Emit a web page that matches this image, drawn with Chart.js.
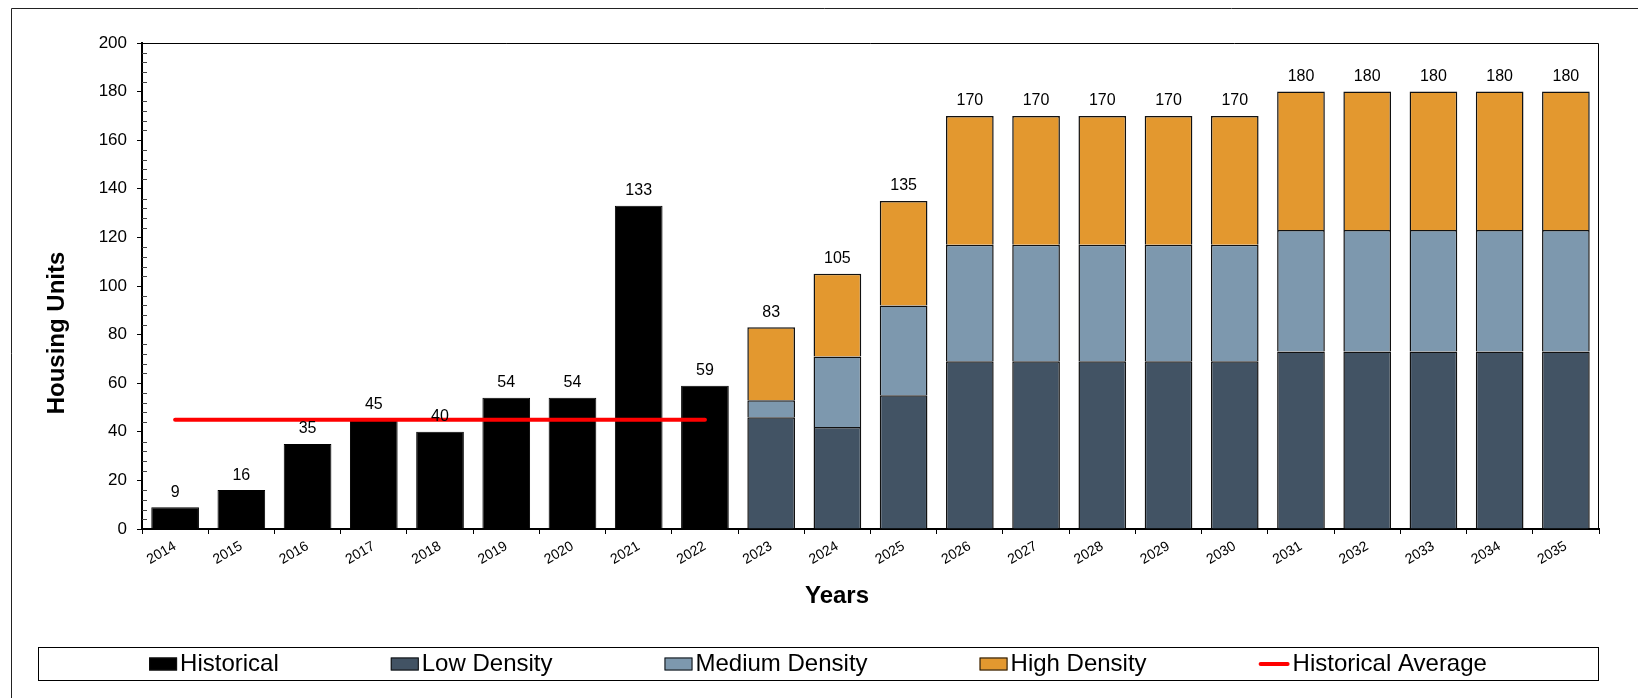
<!DOCTYPE html>
<html>
<head>
<meta charset="utf-8">
<script src="https://cdn.jsdelivr.net/npm/chart.js@4.4.1/dist/chart.umd.min.js"></script>
<style>
  html, body { margin: 0; padding: 0; background: #fff; }
</style>
</head>
<body>
<canvas id="housing" width="1638" height="698"></canvas>
<script>
// chart data
const years = ["2014", "2015", "2016", "2017", "2018", "2019", "2020", "2021", "2022", "2023", "2024",
  "2025", "2026", "2027", "2028", "2029", "2030", "2031", "2032", "2033", "2034", "2035"];
const historical = [9, 16, 35, 45, 40, 54, 54, 133, 59, null, null,
  null, null, null, null, null, null, null, null, null, null, null];
const lowDensity = [null, null, null, null, null, null, null, null, null, 46, 42,
  55, 69, 69, 69, 69, 69, 73, 73, 73, 73, 73];
const mediumDensity = [null, null, null, null, null, null, null, null, null, 7, 29,
  37, 48, 48, 48, 48, 48, 50, 50, 50, 50, 50];
const highDensity = [null, null, null, null, null, null, null, null, null, 30, 34,
  43, 53, 53, 53, 53, 53, 57, 57, 57, 57, 57];
const historicalAverage = [45, 45, 45, 45, 45, 45, 45, 45, 45, null, null,
  null, null, null, null, null, null, null, null, null, null, null];

const FONT = '"Liberation Sans", Arial, sans-serif';

// frame, minor ticks, totals, titles, legend
const decor = {
  id: "decor",
  beforeDraw(chart) {
    const ctx = chart.ctx;
    ctx.save();
    ctx.fillStyle = "#fff";
    ctx.fillRect(0, 0, chart.width, chart.height);
    ctx.strokeStyle = "#222";
    ctx.lineWidth = 1;
    ctx.beginPath();
    ctx.moveTo(11.5, chart.height);
    ctx.lineTo(11.5, 8.5);
    ctx.lineTo(chart.width, 8.5);
    ctx.stroke();
    ctx.restore();
  },
  afterDraw(chart) {
    const ctx = chart.ctx;
    const area = chart.chartArea;
    const x = chart.scales.x;
    const y = chart.scales.y;
    ctx.save();

    // plot frame top / right
    ctx.strokeStyle = "#000";
    ctx.lineWidth = 1;
    ctx.beginPath();
    ctx.moveTo(area.left, Math.round(area.top) + 0.5);
    ctx.lineTo(Math.round(area.right) - 0.5, Math.round(area.top) + 0.5);
    ctx.lineTo(Math.round(area.right) - 0.5, area.bottom);
    ctx.stroke();

    // minor ticks inside the y axis
    ctx.strokeStyle = "#444";
    for (let v = 4; v < 200; v += 4) {
      if (v % 20 === 0) continue;
      const py = Math.round(y.getPixelForValue(v)) + 0.5;
      ctx.beginPath();
      ctx.moveTo(area.left, py);
      ctx.lineTo(area.left + 5, py);
      ctx.stroke();
    }

    // totals above bars
    ctx.fillStyle = "#000";
    ctx.font = "16px " + FONT;
    ctx.textAlign = "center";
    ctx.textBaseline = "middle";
    years.forEach((yr, i) => {
      const total = (historical[i] || 0) + (lowDensity[i] || 0) + (mediumDensity[i] || 0) + (highDensity[i] || 0);
      if (!total) return;
      ctx.fillText(String(total), x.getPixelForValue(i), y.getPixelForValue(total) - 15);
    });

    // axis titles
    ctx.font = "bold 24px " + FONT;
    ctx.fillText("Years", 837, 596);
    ctx.save();
    ctx.translate(57, 333);
    ctx.rotate(-Math.PI / 2);
    ctx.fillText("Housing Units", 0, 0);
    ctx.restore();

    // legend
    const lb = { left: 38, top: 647, right: 1598, bottom: 680 };
    ctx.strokeStyle = "#000";
    ctx.strokeRect(lb.left + 0.5, lb.top + 0.5, lb.right - lb.left, lb.bottom - lb.top);
    ctx.font = "24px " + FONT;
    ctx.textAlign = "left";
    const gap = 112;
    const items = chart.data.datasets.map((ds) => {
      const sw = ds.type === "line" ? 31 : 28;
      return { ds, sw, w: sw + 3 + ctx.measureText(ds.label).width };
    });
    const totalW = items.reduce((s, it) => s + it.w, 0) + gap * (items.length - 1);
    let lx = (lb.left + lb.right) / 2 - totalW / 2;
    const cy = (lb.top + lb.bottom) / 2 + 0.5;
    items.forEach((it) => {
      const ds = it.ds;
      if (ds.type === "line") {
        ctx.strokeStyle = ds.borderColor;
        ctx.lineWidth = 4;
        ctx.lineCap = "round";
        ctx.beginPath();
        ctx.moveTo(lx + 2, cy);
        ctx.lineTo(lx + it.sw - 2, cy);
        ctx.stroke();
      } else {
        ctx.fillStyle = ds.backgroundColor;
        ctx.fillRect(lx, cy - 6.5, it.sw, 13);
        ctx.strokeStyle = "#111";
        ctx.lineWidth = 1;
        ctx.strokeRect(lx + 0.5, cy - 6, it.sw - 1, 12);
      }
      ctx.fillStyle = "#000";
      ctx.fillText(ds.label, lx + it.sw + 3, cy);
      lx += it.w + gap;
    });
    ctx.restore();
  }
};

new Chart(document.getElementById("housing"), {
  type: "bar",
  data: {
    labels: years,
    datasets: [
      { label: "Historical", data: historical, backgroundColor: "#000000", borderColor: "#000000", borderWidth: 1, order: 1 },
      { label: "Low Density", data: lowDensity, backgroundColor: "#425364", borderColor: "#111111", borderWidth: 1.5, order: 1 },
      { label: "Medium Density", data: mediumDensity, backgroundColor: "#7d98ae", borderColor: "#111111", borderWidth: 1.5, order: 1 },
      { label: "High Density", data: highDensity, backgroundColor: "#e3982f", borderColor: "#111111", borderWidth: 1.5, order: 1 },
      {
        type: "line", label: "Historical Average", data: historicalAverage, stack: "avg",
        borderColor: "#ff0000", borderWidth: 4, borderCapStyle: "round", pointRadius: 0, fill: false, order: 0
      }
    ]
  },
  options: {
    responsive: false,
    devicePixelRatio: 1,
    animation: false,
    layout: { padding: { left: 12, top: 43, right: 39, bottom: 100 } },
    datasets: { bar: { barPercentage: 0.72, categoryPercentage: 1 } },
    plugins: { legend: { display: false }, tooltip: { enabled: false } },
    scales: {
      x: {
        stacked: true,
        offset: true,
        grid: { offset: true, drawOnChartArea: false, tickLength: 5, tickColor: "#000" },
        border: { color: "#000", width: 2 },
        ticks: { autoSkip: false, minRotation: 30, maxRotation: 30, padding: 4, color: "#000", font: { family: FONT, size: 14 } },
        afterFit(s) { s.height = 69; }
      },
      y: {
        stacked: true,
        min: 0,
        max: 200,
        grid: { drawOnChartArea: false, tickLength: 5, tickColor: "#000" },
        border: { color: "#000", width: 2 },
        ticks: { stepSize: 20, padding: 10, color: "#000", font: { family: FONT, size: 17 } },
        afterFit(s) { s.width = 130; }
      }
    }
  },
  plugins: [decor]
});
</script>
</body>
</html>
